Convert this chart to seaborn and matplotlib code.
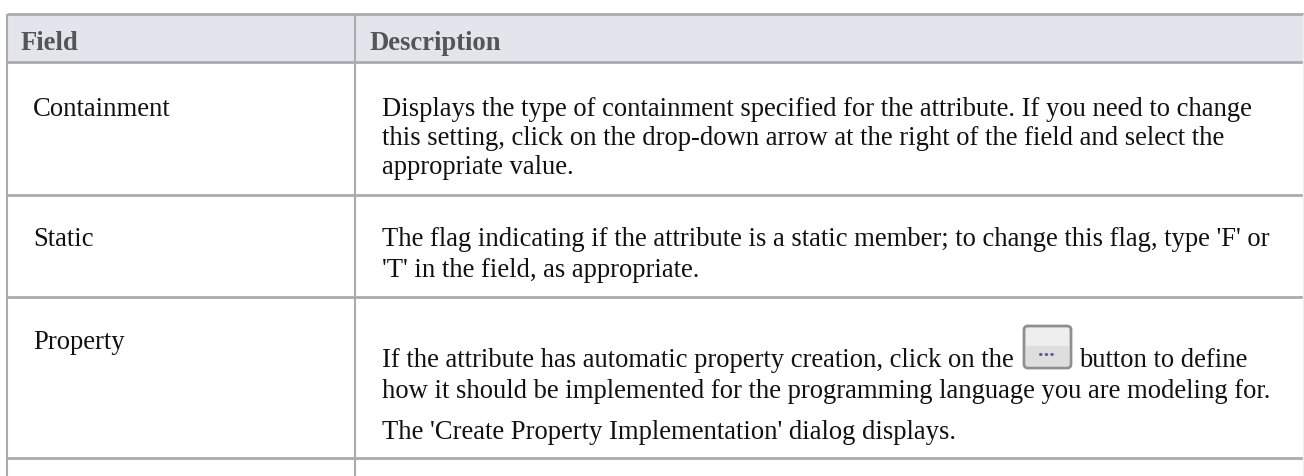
import matplotlib
matplotlib.use("Agg")
import matplotlib.pyplot as plt
from matplotlib.patches import FancyBboxPatch
import seaborn as sns

sns.set_theme(style="white")
plt.rcParams['font.family'] = ['Liberation Serif', 'DejaVu Serif']

# table content
headers = ["Field", "Description"]
fields = ["Containment", "Static", "Property"]
field_y = [116, 246, 349]
desc_lines = [
    "Displays the type of containment specified for the attribute. If you need to change",
    "this setting, click on the drop-down arrow at the right of the field and select the",
    "appropriate value.",
    "The flag indicating if the attribute is a static member; to change this flag, type 'F' or",
    "'T' in the field, as appropriate.",
    "If the attribute has automatic property creation, click on the",
    "how it should be implemented for the programming language you are modeling for.",
    "The 'Create Property Implementation' dialog displays.",
]
desc_y = [116, 145, 174, 246, 277, 367, 398, 439]

# rules (pixels)
left, divider, right = 7, 355, 1304
top, head_bottom = 14, 62
row_bottoms = [195, 297, 458]
size = 19.2

fig, ax = plt.subplots(figsize=(13.04, 4.76), dpi=100)
fig.subplots_adjust(0, 0, 1, 1)
ax.set_xlim(0, 1304)
ax.set_ylim(476, 0)
ax.axis("off")

ax.fill_between([left, right], top, head_bottom, color="#e2e5ec", lw=0)
rule = "#ababab"
for y in [top, head_bottom] + row_bottoms:
    ax.plot([left, right], [y, y], color=rule, lw=2.0, solid_capstyle="butt")
for x in [left, divider]:
    ax.plot([x, x], [top, 476], color=rule, lw=1.5, solid_capstyle="butt")
ax.plot([right - 1, right - 1], [top, 476], color="#eeeeee", lw=1.0, solid_capstyle="butt")

ax.text(21, 50, headers[0], fontsize=size, fontweight="bold", color="#555555", va="baseline")
ax.text(370, 50, headers[1], fontsize=size, fontweight="bold", color="#555555", va="baseline")

for name, y in zip(fields, field_y):
    ax.text(33, y, name, fontsize=size, color="#111111", va="baseline")
for line, y in zip(desc_lines, desc_y):
    ax.text(382, y, line, fontsize=size, color="#111111", va="baseline")

# little "..." button sitting inside the Property row
ax.add_patch(FancyBboxPatch((1024, 326), 47, 42, boxstyle="round,pad=0,rounding_size=4",
                            fc="#eeeeee", ec="#8f8f8f", lw=2.0, zorder=2))
ax.fill_between([1026, 1069], 346, 366, color="#dedede", lw=0, zorder=3)
ax.text(1046, 356, "...", fontsize=16, fontweight="bold", color="#6a4fa0", ha="center",
        va="baseline", zorder=4)
ax.text(1079, 367, "button to define", fontsize=size, color="#111111", va="baseline")

fig.savefig("out.png", dpi=100)
